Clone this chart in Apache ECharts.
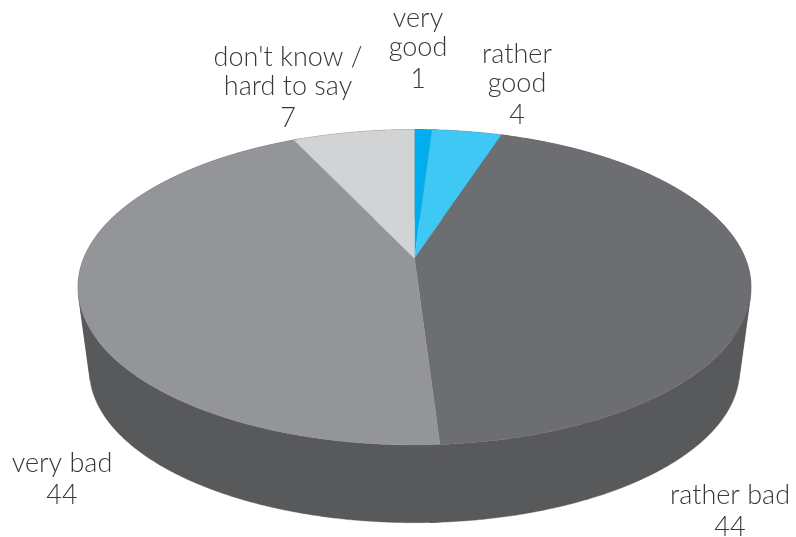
<!DOCTYPE html>
<html><head><meta charset="utf-8">
<style>html,body{margin:0;padding:0;background:#fff}#c{width:796px;height:537px}</style>
<script src="https://cdn.jsdelivr.net/npm/echarts@6/dist/echarts.min.js"></script>
</head><body><div id="c"></div>
<script>
const categories = ['very\ngood', 'rather\ngood', 'rather bad', 'very bad', "don't know /\nhard to say"];
const values = [1, 4, 44, 44, 7];
const sliceColors = ['#00aeef', '#40c8f4', '#6d6e71', '#939598', '#d1d3d4'];
const wallColor = '#58595b';
const labelAnchors = [[418, 4], [517, 40], [730, 481], [62, 449], [288, 43]];

// perspective disc
const cx = 414.5, topY = 258.3, halfW = 330.8, halfH = 152.4, k = 0.1835;
const baseY = 342.4, baseScale = 0.966;
const total = values.reduce((a, b) => a + b, 0);
const starts = values.map((_, i) => values.slice(0, i).reduce((a, b) => a + b, 0));
const lineGap = 29, valueExtra = 3;

function rim(pct, y0, s) {
  const t = pct / total * 2 * Math.PI, u = Math.sin(t), v = -Math.cos(t), d = 1 - k * v;
  return [cx + s * halfW * u / d, y0 + s * halfH * v / d];
}
function arc(i, y0, s, extra) {
  const pts = [], span = values[i] + (extra || 0), n = Math.max(8, Math.ceil(span * 12));
  for (let j = 0; j <= n; j++) pts.push(rim(starts[i] + span * j / n, y0, s));
  return pts;
}
function quadSign(p, q, r, s) {
  const pts = [p, q, r, s];
  let area = 0;
  for (let m = 0; m < 4; m++) {
    const a = pts[m], b = pts[(m + 1) % 4];
    area += a[0] * b[1] - b[0] * a[1];
  }
  return area >= 0 ? 1 : -1;
}
// wall of a slice as simple bands, split where the rim sweep folds over at the silhouette
function wallBands(i) {
  const a = arc(i, topY, 1, 0.4), b = arc(i, baseY, baseScale, 0.4), bands = [];
  let from = 0, sign = quadSign(a[0], a[1], b[1], b[0]);
  for (let j = 1; j < a.length; j++) {
    const s = j + 1 < a.length ? quadSign(a[j], a[j + 1], b[j + 1], b[j]) : 0;
    if (s !== sign) {
      bands.push(a.slice(from, j + 1).concat(b.slice(from, j + 1).reverse()));
      from = j; sign = s;
    }
  }
  return bands;
}
const seriesData = categories.map((name, i) => ({ name, value: values[i] }));

const chart = echarts.init(document.getElementById('c'), null, { renderer: 'canvas' });
chart.setOption({
  animation: false,
  backgroundColor: '#ffffff',
  series: [
    {
      type: 'custom', coordinateSystem: 'none', z: 1, data: seriesData,
      renderItem(params) {
        return {
          type: 'group',
          children: wallBands(params.dataIndex).map(points => ({
            type: 'polygon', shape: { points },
            style: { fill: wallColor, stroke: wallColor, lineWidth: 0.4 }
          }))
        };
      }
    },
    {
      type: 'custom', coordinateSystem: 'none', z: 2, data: seriesData,
      renderItem(params) {
        const i = params.dataIndex;
        const font = '300 27px Lato, sans-serif', fill = '#38383a';
        const lines = categories[i].split('\n').length;
        return {
          type: 'group',
          children: [
            {
              type: 'polygon',
              shape: { points: [[cx, topY]].concat(arc(i, topY, 1)) },
              style: { fill: sliceColors[i], stroke: sliceColors[i], lineWidth: 0.3 }
            },
            {
              type: 'text', z2: 10,
              style: {
                x: labelAnchors[i][0], y: labelAnchors[i][1],
                text: categories[i], align: 'center', verticalAlign: 'top',
                font, lineHeight: lineGap, fill
              }
            },
            {
              type: 'text', z2: 10,
              style: {
                x: labelAnchors[i][0], y: labelAnchors[i][1] + lines * lineGap + valueExtra,
                text: String(values[i]), align: 'center', verticalAlign: 'top',
                font, lineHeight: lineGap, fill
              }
            }
          ]
        };
      }
    }
  ]
});
</script></body></html>
